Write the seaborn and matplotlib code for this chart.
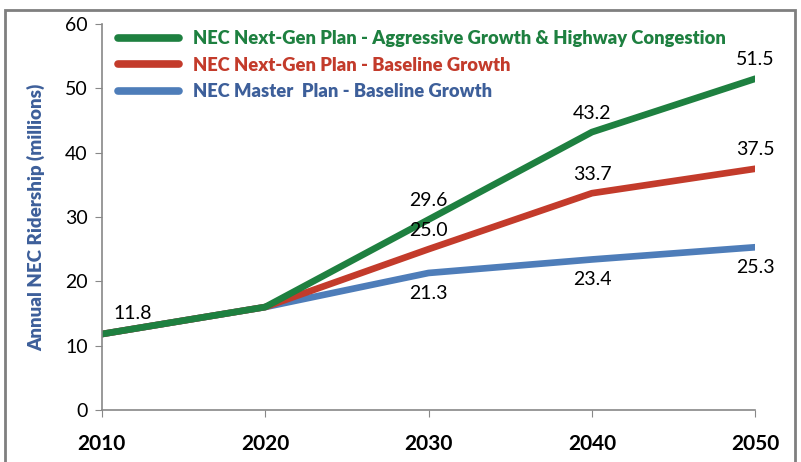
import seaborn as sns
import matplotlib.pyplot as plt
import pandas as pd
from matplotlib.patches import Rectangle

# ---- data ----
years = [2010, 2020, 2030, 2040, 2050]
aggressive = [11.8, 16.0, 29.6, 43.2, 51.5]
baseline = [11.8, 16.0, 25.0, 33.7, 37.5]
master = [11.8, 16.0, 21.3, 23.4, 25.3]

names = ['NEC Next-Gen Plan - Aggressive Growth & Highway Congestion',
         'NEC Next-Gen Plan - Baseline Growth',
         'NEC Master  Plan - Baseline Growth']
colors = ['#1E8040', '#C33B2B', '#4E7DB9']
label_colors = ['#1E8040', '#C33B2B', '#3D5F9A']

rows = []
for name, vals in zip(names, [aggressive, baseline, master]):
    for y, v in zip(years, vals):
        rows.append({'year': y, 'ridership': v, 'plan': name})
df = pd.DataFrame(rows)

sns.set_style('white')
plt.rcParams['font.family'] = ['Lato', 'DejaVu Sans']

fig = plt.figure(figsize=(8.01, 4.62), dpi=100)
ax = fig.add_axes([0.127, 0.1126, 0.816, 0.8354])

# draw blue first so green sits on top
sns.lineplot(data=df, x='year', y='ridership', hue='plan',
             hue_order=names[::-1], palette=dict(zip(names, colors)),
             linewidth=4.8, solid_capstyle='round', ax=ax)

ax.set_xlim(2010, 2050)
ax.set_ylim(0, 60)
ax.set_xticks(years)
ax.set_yticks(range(0, 61, 10))
ax.tick_params(axis='x', labelsize=15, pad=12, direction='out', length=5,
               color='#888888', labelcolor='black', bottom=True)
ax.tick_params(axis='y', labelsize=14, pad=5, direction='out', length=5,
               color='#888888', labelcolor='black', left=True)
for t in ax.get_xticklabels():
    t.set_fontweight('bold')
ax.set_xlabel('')
ax.set_ylabel('Annual NEC Ridership (millions)', fontsize=13.5, fontweight='heavy',
              color='#3D5F9A', labelpad=14)
sns.despine(ax=ax)
for s in ['left', 'bottom']:
    ax.spines[s].set_color('#888888')
    ax.spines[s].set_linewidth(1.2)

# data labels
lab_kw = dict(fontsize=14, color='black', ha='center')
ax.text(2011.9, 13.6, '11.8', va='bottom', **lab_kw)
for x, v in zip(years[2:], aggressive[2:]):
    ax.text(x, v + 1.6, f'{v:.1f}', va='bottom', **lab_kw)
for x, v in zip(years[2:], baseline[2:]):
    ax.text(x, v + 1.6, f'{v:.1f}', va='bottom', **lab_kw)
for x, v in zip(years[2:], master[2:]):
    ax.text(x, v - 1.8, f'{v:.1f}', va='top', **lab_kw)

# legend in original order
handles, labels = ax.get_legend_handles_labels()
order = [labels.index(n) for n in names]
leg = ax.legend([handles[i] for i in order], [labels[i] for i in order],
                loc='upper left', bbox_to_anchor=(0.0, 1.027), frameon=False,
                handlelength=3.3, handletextpad=0.8, labelspacing=0.52,
                prop={'size': 13.2, 'weight': 'heavy'})
for txt, c in zip(leg.get_texts(), label_colors):
    txt.set_color(c)
for ln in leg.get_lines():
    ln.set_linewidth(5.5)

# outer chart border
fig.patches.append(Rectangle((5 / 801, -0.02), 790 / 801, 1 - 10 / 462 + 0.02,
                             transform=fig.transFigure, fill=False,
                             edgecolor='#7F7F7F', linewidth=2))

fig.savefig('out.png', dpi=100)
